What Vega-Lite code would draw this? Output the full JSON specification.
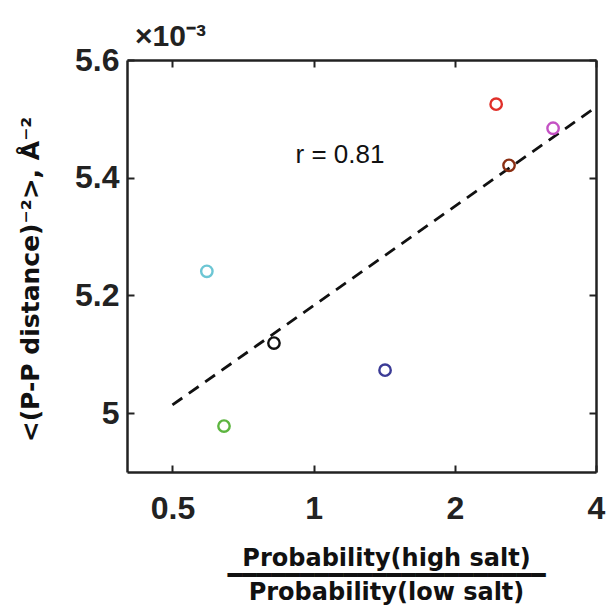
{
  "$schema": "https://vega.github.io/schema/vega-lite/v6.json",
  "width": 469,
  "height": 412,
  "autosize": "none",
  "padding": {"left": 127, "top": 60, "right": 10, "bottom": 135},
  "background": "white",
  "title": {
    "text": "×10⁻³",
    "anchor": "start",
    "frame": "group",
    "font": "Liberation Sans",
    "fontSize": 30,
    "fontWeight": "bold",
    "color": "#222222",
    "baseline": "alphabetic",
    "offset": -32,
    "dx": 8
  },
  "datasets": {
    "samples": [
      {"sample": "1", "ratio": 2.45, "inv_sq": 5.525},
      {"sample": "2", "ratio": 3.24, "inv_sq": 5.484},
      {"sample": "3", "ratio": 2.61, "inv_sq": 5.421},
      {"sample": "4", "ratio": 0.592, "inv_sq": 5.241},
      {"sample": "5", "ratio": 0.823, "inv_sq": 5.119},
      {"sample": "6", "ratio": 1.42, "inv_sq": 5.073},
      {"sample": "7", "ratio": 0.644, "inv_sq": 4.978}
    ],
    "fit": [
      {"ratio": 0.5, "inv_sq": 5.014},
      {"ratio": 4, "inv_sq": 5.52}
    ]
  },
  "resolve": {"axis": {"x": "independent", "y": "independent"}},
  "layer": [
    {
      "data": {"name": "fit"},
      "mark": {"type": "line", "color": "#111111", "strokeWidth": 2.8, "strokeDash": [12, 8]},
      "encoding": {
        "x": {
          "field": "ratio", "type": "quantitative",
          "scale": {"type": "log", "domain": [0.4, 4], "nice": false},
          "axis": {"orient": "top", "values": [0.5, 1, 2, 4], "labels": false, "title": null,
                   "tickSize": -7, "tickWidth": 2, "tickColor": "#222222",
                   "domainWidth": 2.5, "domainColor": "#222222", "grid": false}
        },
        "y": {
          "field": "inv_sq", "type": "quantitative",
          "scale": {"domain": [4.9, 5.6], "nice": false, "zero": false},
          "axis": {"orient": "right", "values": [5, 5.2, 5.4, 5.6], "labels": false, "title": null,
                   "tickSize": -7, "tickWidth": 2, "tickColor": "#222222",
                   "domainWidth": 2.5, "domainColor": "#222222", "grid": false}
        }
      }
    },
    {
      "data": {"name": "samples"},
      "mark": {"type": "point", "shape": "circle", "filled": false, "size": 130, "strokeWidth": 2.4, "opacity": 1},
      "encoding": {
        "x": {
          "field": "ratio", "type": "quantitative",
          "axis": {
            "orient": "bottom", "values": [0.5, 1, 2, 4], "format": "~g",
            "labelFont": "Liberation Sans", "labelFontSize": 32, "labelFontWeight": "bold",
            "labelColor": "#222222", "labelFlush": false, "labelPadding": 28,
            "tickSize": -7, "tickWidth": 2, "tickColor": "#222222",
            "domainWidth": 2.5, "domainColor": "#222222", "grid": false,
            "title": ["Probability(high salt)", "━━━━━━━━━━━━━━━━━━━━━━", "Probability(low salt)"],
            "titleFont": "DejaVu Sans", "titleFontSize": 24, "titleFontWeight": "bold",
            "titleColor": "#111111", "titleLineHeight": 17,
            "titleX": 259, "titleY": 93, "titleBaseline": "alphabetic", "titleAnchor": "middle", "titleAlign": "center"
          }
        },
        "y": {
          "field": "inv_sq", "type": "quantitative",
          "axis": {
            "orient": "left", "values": [5, 5.2, 5.4, 5.6], "format": "~g",
            "labelFont": "Liberation Sans", "labelFontSize": 32, "labelFontWeight": "bold",
            "labelColor": "#222222", "labelFlush": false, "labelPadding": 15, "labelOverlap": false,
            "tickSize": -7, "tickWidth": 2, "tickColor": "#222222",
            "domainWidth": 2.5, "domainColor": "#222222", "grid": false,
            "title": "<(P-P distance)⁻²>, Å⁻²",
            "titleFont": "DejaVu Sans", "titleFontSize": 25, "titleFontWeight": "bold",
            "titleColor": "#111111", "titleAngle": -90,
            "titleX": -89, "titleY": 219, "titleBaseline": "alphabetic", "titleAlign": "center"
          }
        },
        "color": {
          "field": "sample", "type": "nominal", "legend": null,
          "scale": {
            "domain": ["1", "2", "3", "4", "5", "6", "7"],
            "range": ["#e0302a", "#c452c4", "#8a2e12", "#6cc6d4", "#111111", "#3b3b96", "#5db540"]
          }
        }
      }
    },
    {
      "data": {"values": [{}]},
      "mark": {"type": "text", "text": "r = 0.81", "font": "Liberation Sans", "fontSize": 26, "color": "#111111", "align": "center", "baseline": "middle"},
      "encoding": {
        "x": {"datum": 1.138, "type": "quantitative", "axis": null},
        "y": {"datum": 5.438, "type": "quantitative", "axis": null}
      }
    }
  ],
  "config": {"view": {"stroke": null}}
}
